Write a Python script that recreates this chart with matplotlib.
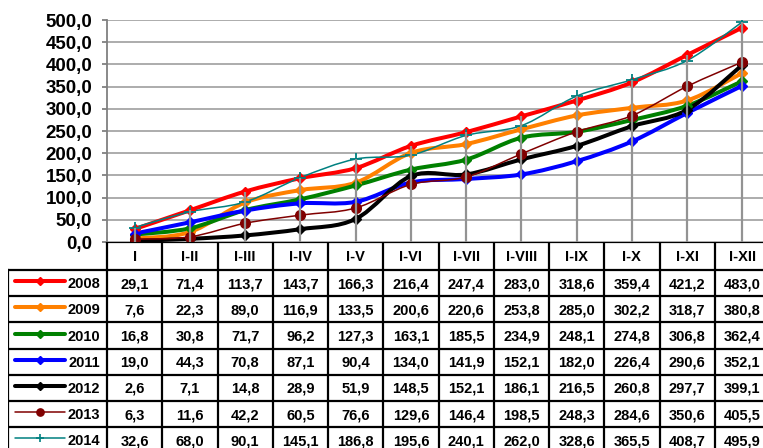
import matplotlib
matplotlib.use("Agg")
import matplotlib.pyplot as plt
from matplotlib.path import Path
from matplotlib.patches import PathPatch

plt.rcParams['font.family'] = ['Liberation Sans', 'DejaVu Sans']
plt.rcParams['font.weight'] = 'bold'

months = ["I", "I-II", "I-III", "I-IV", "I-V", "I-VI", "I-VII", "I-VIII", "I-IX", "I-X", "I-XI", "I-XII"]
years = ["2008", "2009", "2010", "2011", "2012", "2013", "2014"]

v2008 = [29.1, 71.4, 113.7, 143.7, 166.3, 216.4, 247.4, 283.0, 318.6, 359.4, 421.2, 483.0]
v2009 = [7.6, 22.3, 89.0, 116.9, 133.5, 200.6, 220.6, 253.8, 285.0, 302.2, 318.7, 380.8]
v2010 = [16.8, 30.8, 71.7, 96.2, 127.3, 163.1, 185.5, 234.9, 248.1, 274.8, 306.8, 362.4]
v2011 = [19.0, 44.3, 70.8, 87.1, 90.4, 134.0, 141.9, 152.1, 182.0, 226.4, 290.6, 352.1]
v2012 = [2.6, 7.1, 14.8, 28.9, 51.9, 148.5, 152.1, 186.1, 216.5, 260.8, 297.7, 399.1]
v2013 = [6.3, 11.6, 42.2, 60.5, 76.6, 129.6, 146.4, 198.5, 248.3, 284.6, 350.6, 405.5]
v2014 = [32.6, 68.0, 90.1, 145.1, 186.8, 195.6, 240.1, 262.0, 328.6, 365.5, 408.7, 495.9]
series = [v2008, v2009, v2010, v2011, v2012, v2013, v2014]

# colour, line width, marker, marker size
styles = [
    ("#ff0000", 2.9, "D", 5),
    ("#ff8000", 2.9, "D", 5),
    ("#008000", 2.9, "D", 5),
    ("#0000ff", 2.9, "D", 5),
    ("#000000", 2.9, "D", 5),
    ("#800000", 1.1, "o", 7),
    ("#008080", 1.1, "+", 8),
]


def fmt(v):
    return f"{v:.1f}".replace(".", ",")


def smooth_path(xs, ys):
    # excel-like smoothed line: cubic bezier through the points
    pts = list(zip(xs, ys))
    n = len(pts)
    verts = [pts[0]]
    codes = [Path.MOVETO]
    for i in range(n - 1):
        p0 = pts[i - 1] if i > 0 else pts[i]
        p1 = pts[i]
        p2 = pts[i + 1]
        p3 = pts[i + 2] if i + 2 < n else pts[i + 1]
        c1 = (p1[0] + (p2[0] - p0[0]) / 6, p1[1] + (p2[1] - p0[1]) / 6)
        c2 = (p2[0] - (p3[0] - p1[0]) / 6, p2[1] - (p3[1] - p1[1]) / 6)
        verts += [c1, c2, p2]
        codes += [Path.CURVE4] * 3
    return Path(verts, codes)


W, H = 763, 448
fig = plt.figure(figsize=(W / 100, H / 100), dpi=100)

col_w = 55.25
ax_l, ax_t, ax_b = 107, 20, 242
ax = fig.add_axes([ax_l / W, (H - ax_b) / H, 12 * col_w / W, (ax_b - ax_t) / H])
x = list(range(len(months)))

for vals, (c, lw, m, ms) in zip(series, styles):
    ax.add_patch(PathPatch(smooth_path(x, vals), facecolor="none", edgecolor=c,
                           lw=lw, capstyle="round", joinstyle="round", zorder=3))
    ax.plot(x, vals, linestyle="none", marker=m, color=c, markersize=ms,
            markeredgewidth=1.3 if m == "+" else 1, zorder=4)

# drop lines
tops = [max(s[i] for s in series) for i in x]
ax.vlines(x, 0, tops, colors="#939393", lw=1.6, zorder=5)

ax.set_xlim(-0.5, 11.5)
ax.set_ylim(0, 500)
ax.set_yticks(range(0, 501, 50))
ax.set_yticklabels([fmt(v) for v in range(0, 501, 50)], fontsize=13.5, fontweight="bold")
ax.yaxis.grid(True, color="#a6a6a6", lw=1.3)
ax.set_axisbelow(True)
ax.set_xticks([])
ax.tick_params(axis="y", length=3.6, width=1.3, color="#808080", pad=7)
for s in ["top", "right"]:
    ax.spines[s].set_visible(False)
ax.spines["left"].set_color("#808080")
ax.spines["left"].set_linewidth(1.3)
ax.spines["bottom"].set_visible(False)

# data table under the plot
tab_l = 8
left_u = -0.5 - (ax_l - tab_l) / col_w
head_h, row_h = 28, 26.2
tab_h = head_h + row_h * len(years)
tax = fig.add_axes([tab_l / W, (H - ax_b - tab_h) / H, (ax_l + 12 * col_w - tab_l) / W, tab_h / H])
tax.set_xlim(left_u, 11.5)
tax.set_ylim(tab_h, 0)
tax.axis("off")

lk = dict(color="black", lw=1.6, solid_capstyle="projecting")
tax.plot([-0.5, 11.5], [0, 0], **lk)
tax.plot([left_u, 11.5], [head_h, head_h], **lk)
for k in range(13):
    tax.plot([k - 0.5, k - 0.5], [0, tab_h], **lk)
tax.plot([left_u, left_u], [head_h, tab_h], **lk)
for r in range(1, len(years) + 1):
    y = head_h + r * row_h
    tax.plot([left_u, 11.5], [y, y], **lk)

for i, mth in enumerate(months):
    tax.text(i, head_h / 2 + 1, mth, ha="center", va="center", fontsize=10.5, fontweight="bold")

for r, (yr, vals, (c, lw, m, ms)) in enumerate(zip(years, series, styles)):
    yc = head_h + (r + 0.5) * row_h
    for i, v in enumerate(vals):
        tax.text(i, yc + 1, fmt(v), ha="center", va="center", fontsize=10.5, fontweight="bold")
    x1 = left_u + 7 / col_w
    x2 = left_u + 57 / col_w
    tax.plot([x1, x2], [yc - 2, yc - 2], color=c, lw=lw, solid_capstyle="round")
    tax.plot([(x1 + x2) / 2], [yc - 2], marker=m, color=c,
             markersize=ms * 0.75, markeredgewidth=1.2 if m == "+" else 1)
    tax.text(-0.5 - 7 / col_w, yc + 1, yr, ha="right", va="center", fontsize=10.5, fontweight="bold")

fig.savefig("out.png", dpi=100)
